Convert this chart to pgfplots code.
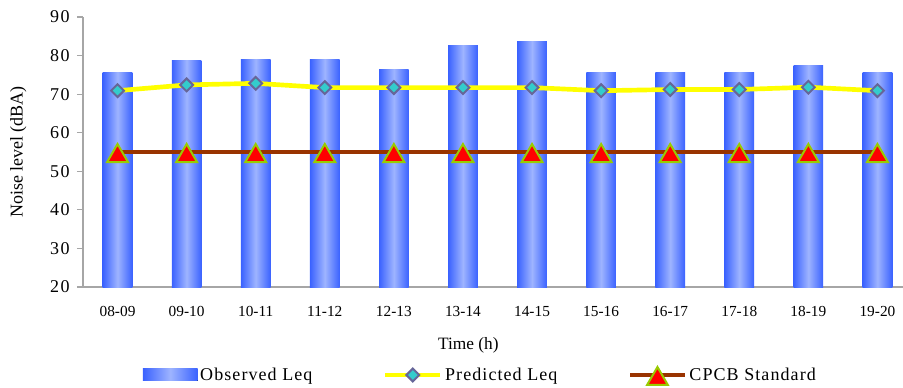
\documentclass[border=0pt]{standalone}
\usepackage{fontspec}
\setmainfont{Liberation Serif}
\usepackage{pgfplots}
\pgfplotsset{compat=1.18}
\definecolor{barblue}{HTML}{3A62FF}
\definecolor{barlight}{HTML}{9EB4FF}
\definecolor{predline}{HTML}{FFFF00}
\definecolor{predfill}{HTML}{33CCCC}
\definecolor{preddraw}{HTML}{666699}
\definecolor{cpcb}{HTML}{993300}
\definecolor{tridraw}{HTML}{99CC00}
\definecolor{axgray}{HTML}{A6A6A6}
\pgfplotsset{
  longline legend/.style={legend image code/.code={\draw[mark repeat=2,mark phase=2,##1] plot coordinates {(0pt,0pt) (20.5pt,0pt) (41pt,0pt)};}},
  barrect legend/.style={legend image code/.code={\fill[left color=barblue, right color=barblue, middle color=barlight] (0pt,-4.5pt) rectangle (41pt,4.5pt);}},
  obsbar/.style={ybar, bar width=0.43, draw=none, left color=barblue, right color=barblue, middle color=barlight},
}
\begin{document}
\begin{tikzpicture}
\useasboundingbox (-62.25pt,-75pt) rectangle (615pt,215.25pt);
\begin{axis}[
  scale only axis, width=615pt, height=202.5pt,
  xmin=-0.5, xmax=11.37, ymin=20, ymax=90,
  ytick={20,30,...,90},
  xtick={0,...,11},
  xticklabels={08-09,09-10,10-11,11-12,12-13,13-14,14-15,15-16,16-17,17-18,18-19,19-20},
  axis lines*=left,
  axis line style={axgray, line width=0.8pt, -},
  x tick style={draw=none},
  y tick style={axgray, line width=0.8pt},
  tick align=outside, major tick length=4.5pt,
  /pgf/number format/assume math mode=true,
  yticklabel style={font=\fontsize{13.5}{15}\selectfont\addfontfeature{LetterSpace=8}, xshift=-2pt},
  xticklabel style={font=\fontsize{11.5}{13}\selectfont, anchor=center, yshift=-14pt},
  label style={font=\fontsize{13}{15}\selectfont},
  xlabel={Time (h)},
  ylabel={Noise level (dBA)},
  xlabel style={at={(axis description cs:0.47,-0.215)}, anchor=center},
  ylabel style={at={(axis description cs:-0.079,0.5)}, anchor=center, font=\fontsize{13.5}{15}\selectfont},
  legend style={at={(axis description cs:0.485,-0.326)}, anchor=center,
    legend columns=3, draw=none, fill=none, font=\fontsize{13.5}{15}\selectfont\addfontfeature{LetterSpace=6},
    /tikz/every even column/.append style={column sep=51pt}},
  legend cell align=left,
]
\addplot[obsbar, barrect legend] coordinates {(0,75.7)};
\addlegendentry{Observed Leq}
\addplot[obsbar, forget plot] coordinates {(1,78.6)};
\addplot[obsbar, forget plot] coordinates {(2,79.1)};
\addplot[obsbar, forget plot] coordinates {(3,79.1)};
\addplot[obsbar, forget plot] coordinates {(4,76.3)};
\addplot[obsbar, forget plot] coordinates {(5,82.7)};
\addplot[obsbar, forget plot] coordinates {(6,83.75)};
\addplot[obsbar, forget plot] coordinates {(7,75.7)};
\addplot[obsbar, forget plot] coordinates {(8,75.7)};
\addplot[obsbar, forget plot] coordinates {(9,75.7)};
\addplot[obsbar, forget plot] coordinates {(10,77.4)};
\addplot[obsbar, forget plot] coordinates {(11,75.7)};
\addplot[predline, line width=3.5pt, mark=square*, mark size=3.4pt,
  mark options={rotate=45, fill=predfill, draw=preddraw, line width=1.5pt}, longline legend]
  coordinates {(0,70.9) (1,72.4) (2,72.8) (3,71.7) (4,71.7) (5,71.7) (6,71.7) (7,70.9) (8,71.2) (9,71.2) (10,71.8) (11,70.9)};
\addlegendentry{Predicted Leq}
\addplot[cpcb, line width=3pt, mark=triangle*, mark size=9pt,
  mark options={fill=red, draw=tridraw, line width=1.5pt, yshift=-3pt}, longline legend]
  coordinates {(0,55) (1,55) (2,55) (3,55) (4,55) (5,55) (6,55) (7,55) (8,55) (9,55) (10,55) (11,55)};
\addlegendentry{CPCB Standard}
\end{axis}
\end{tikzpicture}
\end{document}
